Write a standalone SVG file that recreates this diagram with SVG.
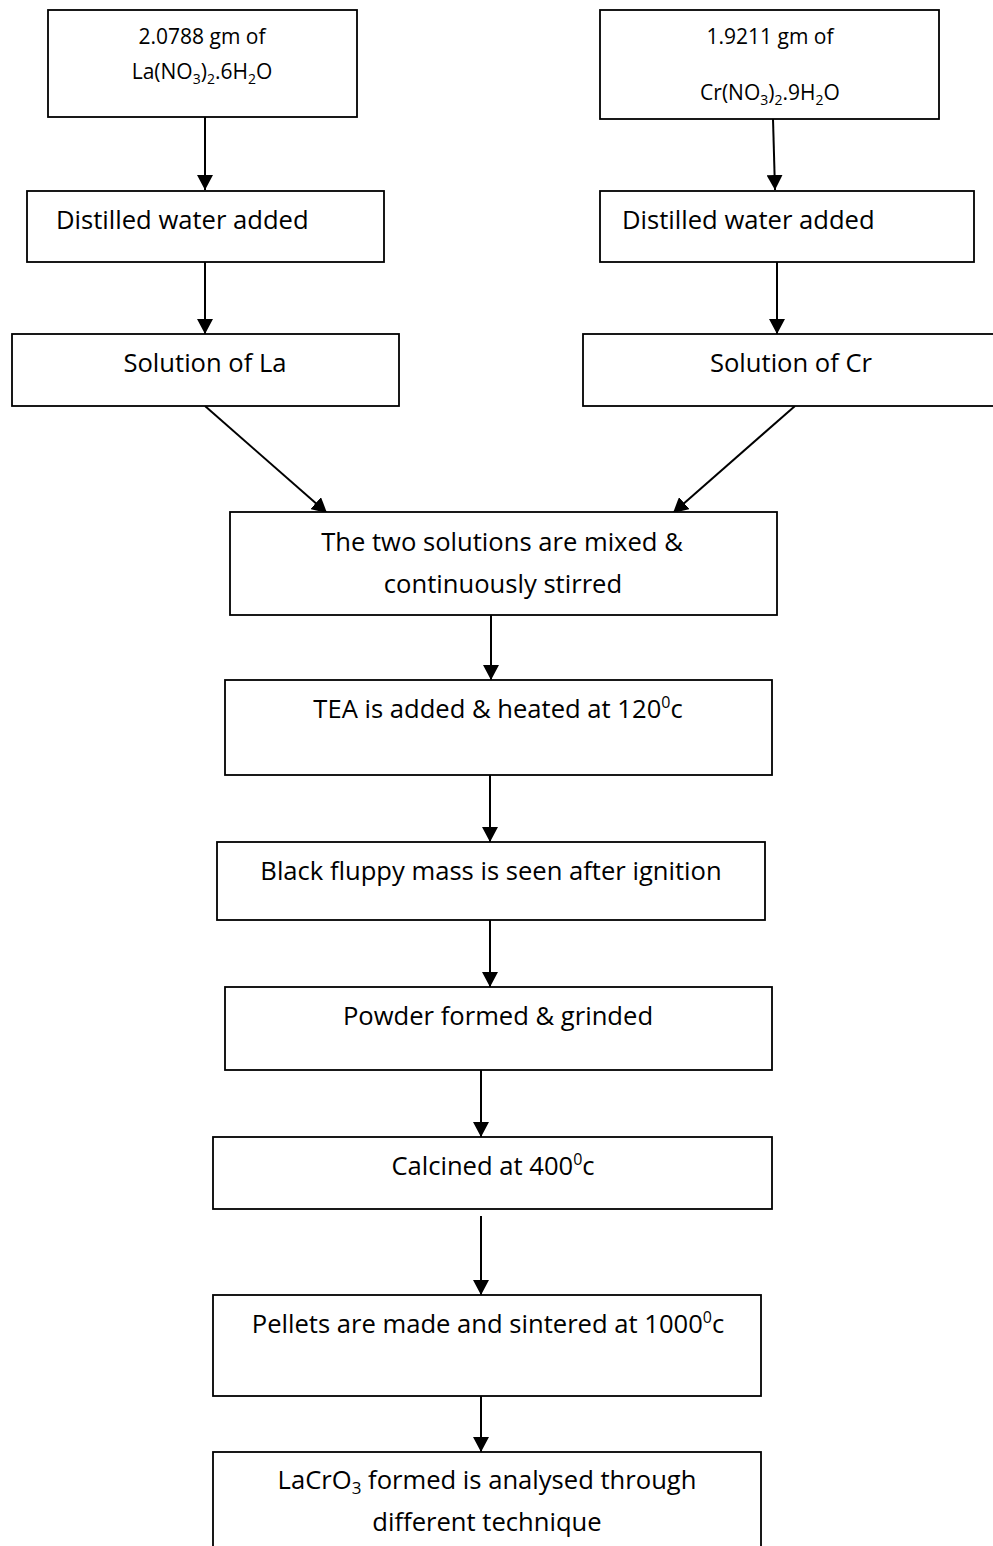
<svg xmlns="http://www.w3.org/2000/svg" width="993" height="1546" viewBox="0 0 993 1546">
<style>
.box{fill:#fff;stroke:#000;stroke-width:1.8}
.t{font-family:"Open Sans","DejaVu Sans",sans-serif;font-size:25.6px;fill:#000}
.s{font-family:"Open Sans","DejaVu Sans",sans-serif;font-size:21px;fill:#000}
.c{text-anchor:middle}
.ln{stroke:#000;stroke-width:2;fill:none;marker-end:url(#ah)}
</style>
<defs>
<marker id="ah" viewBox="0 0 15 16" refX="15" refY="8" markerWidth="15" markerHeight="16" markerUnits="userSpaceOnUse" orient="auto">
<path d="M0,0 L15,8 L0,16 z" fill="#000"/>
</marker>
</defs>
<rect width="993" height="1546" fill="#fff"/>
<g id="connectors">
<path class="ln" d="M205,117 L205,190"/>
<path class="ln" d="M205,262 L205,334"/>
<path class="ln" d="M773,119 L775,190"/>
<path class="ln" d="M777,262 L777,334"/>
<path class="ln" d="M205,406 L327,513"/>
<path class="ln" d="M795,406 L673,513"/>
<path class="ln" d="M491,615 L491,680"/>
<path class="ln" d="M490,775 L490,842"/>
<path class="ln" d="M490,920 L490,987"/>
<path class="ln" d="M481,1070 L481,1137"/>
<path class="ln" d="M481,1216 L481,1295"/>
<path class="ln" d="M481,1396 L481,1452"/>
</g>
<g id="la-nitrate">
<rect class="box" x="48" y="10" width="309" height="107"/>
<text class="s c" x="202" y="44">2.0788 gm of</text>
<text class="s c" x="202" y="79">La(NO<tspan font-size="14" dy="5">3</tspan><tspan dy="-5">)</tspan><tspan font-size="14" dy="5">2</tspan><tspan dy="-5">.6H</tspan><tspan font-size="14" dy="5">2</tspan><tspan dy="-5">O</tspan></text>
</g>
<g id="la-water">
<rect class="box" x="27" y="191" width="357" height="71"/>
<text class="t" x="56" y="229">Distilled water added</text>
</g>
<g id="la-solution">
<rect class="box" x="12" y="334" width="387" height="72"/>
<text class="t c" x="205" y="372">Solution of La</text>
</g>
<g id="cr-nitrate">
<rect class="box" x="600" y="10" width="339" height="109"/>
<text class="s c" x="770" y="44">1.9211 gm of</text>
<text class="s c" x="770" y="100">Cr(NO<tspan font-size="14" dy="5">3</tspan><tspan dy="-5">)</tspan><tspan font-size="14" dy="5">2</tspan><tspan dy="-5">.9H</tspan><tspan font-size="14" dy="5">2</tspan><tspan dy="-5">O</tspan></text>
</g>
<g id="cr-water">
<rect class="box" x="600" y="191" width="374" height="71"/>
<text class="t" x="622" y="229">Distilled water added</text>
</g>
<g id="cr-solution">
<rect class="box" x="583" y="334" width="420" height="72"/>
<text class="t c" x="791" y="372">Solution of Cr</text>
</g>
<g id="mixed">
<rect class="box" x="230" y="512" width="547" height="103"/>
<text class="t c" x="502" y="551">The two solutions are mixed &amp;</text>
<text class="t c" x="503" y="593">continuously stirred</text>
</g>
<g id="tea">
<rect class="box" x="225" y="680" width="547" height="95"/>
<text class="t c" x="498" y="718">TEA is added &amp; heated at 120<tspan font-size="16" dy="-10">0</tspan><tspan dy="10">c</tspan></text>
</g>
<g id="black-mass">
<rect class="box" x="217" y="842" width="548" height="78"/>
<text class="t c" x="491" y="880">Black fluppy mass is seen after ignition</text>
</g>
<g id="powder">
<rect class="box" x="225" y="987" width="547" height="83"/>
<text class="t c" x="498" y="1025">Powder formed &amp; grinded</text>
</g>
<g id="calcined">
<rect class="box" x="213" y="1137" width="559" height="72"/>
<text class="t c" x="493" y="1175">Calcined at 400<tspan font-size="16" dy="-10">0</tspan><tspan dy="10">c</tspan></text>
</g>
<g id="pellets">
<rect class="box" x="213" y="1295" width="548" height="101"/>
<text class="t c" x="488" y="1333">Pellets are made and sintered at 1000<tspan font-size="16" dy="-10">0</tspan><tspan dy="10">c</tspan></text>
</g>
<g id="lacro3">
<rect class="box" x="213" y="1452" width="548" height="110"/>
<text class="t c" x="487" y="1489">LaCrO<tspan font-size="17" dy="5">3</tspan><tspan dy="-5"> formed is analysed through</tspan></text>
<text class="t c" x="487" y="1531">different technique</text>
</g>
</svg>
